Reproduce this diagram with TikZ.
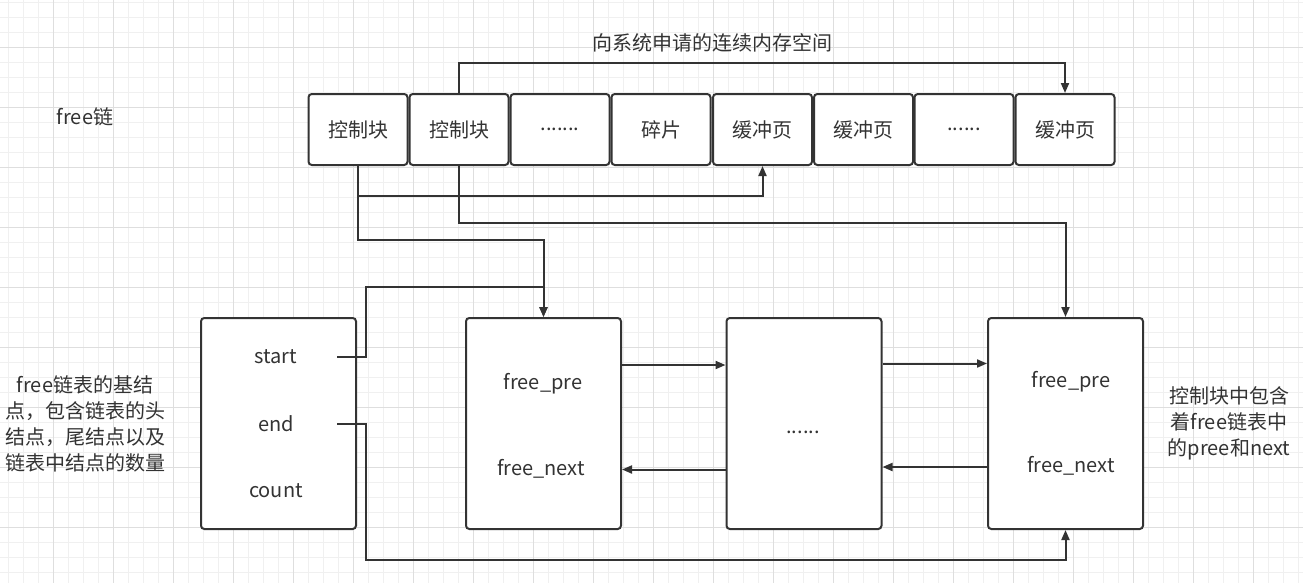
\documentclass[tikz,border=0pt]{standalone}
\usepackage{fontspec}
\setmainfont{Noto Sans CJK SC}
\usetikzlibrary{arrows.meta,calc}
\definecolor{ink}{HTML}{333333}
\definecolor{gmin}{HTML}{F0F0F0}
\definecolor{gmaj}{HTML}{DEDEDE}
\begin{document}
\begin{tikzpicture}[x=0.75pt,y=-0.75pt,
  every node/.style={font=\fontsize{15}{19.5}\selectfont, text=ink},
  cell/.style={draw=ink, fill=white, line width=1.5pt, rounded corners=2.5pt, minimum width=74.25pt, minimum height=53.25pt, inner sep=0pt},
  bigcell/.style={cell, minimum width=116.25pt, minimum height=158.25pt},
  lbl/.style={inner sep=0pt},
  link/.style={draw=ink, line width=1.5pt},
  arr/.style={link, -{Triangle[length=7.5pt,width=6pt]}},
  gridminor/.style={draw=gmin, line width=0.7pt},
  gridmajor/.style={draw=gmaj, line width=0.7pt}
]
\useasboundingbox (0,0) rectangle (1303,583);
\fill[white] (0,0) rectangle (1303,583);
% grid
\foreach \x in {8,23,...,1303} \draw[gridminor] (\x,0) -- (\x,583);
\foreach \y in {2,17,...,583} \draw[gridminor] (0,\y) -- (1303,\y);
\foreach \x in {53,113,...,1303} \draw[gridmajor] (\x,0) -- (\x,583);
\foreach \y in {47,107,...,583} \draw[gridmajor] (0,\y) -- (1303,\y);

% texts outside
\node[lbl] (title) at (712,43) {向系统申请的连续内存空间};
\node[lbl] (freechain) at (85,117) {free链};
\node[lbl, align=center] (leftnote) at (85,424) {free链表的基结\\点，包含链表的头\\结点，尾结点以及\\链表中结点的数量};
\node[lbl, align=center] (rightnote) at (1229,423) {控制块中包含\\着free链表中\\的pree和next};

% top row
\node[cell] (b1) at (358,129.5) {控制块};
\node[cell] (b2) at (459,129.5) {控制块};
\node[cell] (b3) at (560,129.5) {.......};
\node[cell] (b4) at (661,129.5) {碎片};
\node[cell] (b5) at (762.5,129.5) {缓冲页};
\node[cell] (b6) at (863.5,129.5) {缓冲页};
\node[cell] (b7) at (964,129.5) {......};
\node[cell] (b8) at (1065,129.5) {缓冲页};

% bottom row
\node[bigcell] (base) at (278.5,423.5) {};
\node[bigcell] (n1) at (543.5,423.5) {};
\node[bigcell] (n2) at (804,423.5) {};
\node[bigcell] (n3) at (1065.5,423.5) {};

\node[lbl] (start) at (276,357) {start};
\node[lbl] (endf) at (276,424) {end};
\node[lbl] (count) at (276,491) {count};
\node[lbl] (pre1) at (543,384) {free\_pre};
\node[lbl] (next1) at (541,469) {free\_next};
\node[lbl] (dots2) at (803,432) {......};
\node[lbl] (pre3) at (1071,382) {free\_pre};
\node[lbl] (next3) at (1071,466) {free\_next};

% connectors
\draw[arr] (b2.north) |- ($(b8.north)+(0,-30)$) -- (b8.north);
\draw[arr] (b1.south) |- ($(b5.south)+(0,30)$) -- (b5.south);
\draw[arr] (b1.south) |- ($(n1.north)+(0,-77)$) -- (n1.north);
\draw[arr] (b2.south) |- ($(n3.north)+(0,-94)$) -- (n3.north);

\coordinate (sA) at (337,357);
\coordinate (sB) at (366,357);
\coordinate (sC) at (366,287);
\draw[arr] (sA) -- (sB) -- (sC) -| (n1.north);

\coordinate (eA) at (337,424);
\coordinate (eB) at (366,424);
\draw[arr] (eA) -- (eB) |- ($(n3.south)+(0,30)$) -- (n3.south);

\draw[arr] ($(n1.east)+(0,-58.5)$) -- ($(n2.west)+(0,-58.5)$);
\draw[arr] ($(n2.west)+(0,46)$) -- ($(n1.east)+(0,46)$);
\draw[arr] ($(n2.east)+(0,-60)$) -- ($(n3.west)+(0,-60)$);
\draw[arr] ($(n3.west)+(0,43.5)$) -- ($(n2.east)+(0,43.5)$);
\end{tikzpicture}
\end{document}
